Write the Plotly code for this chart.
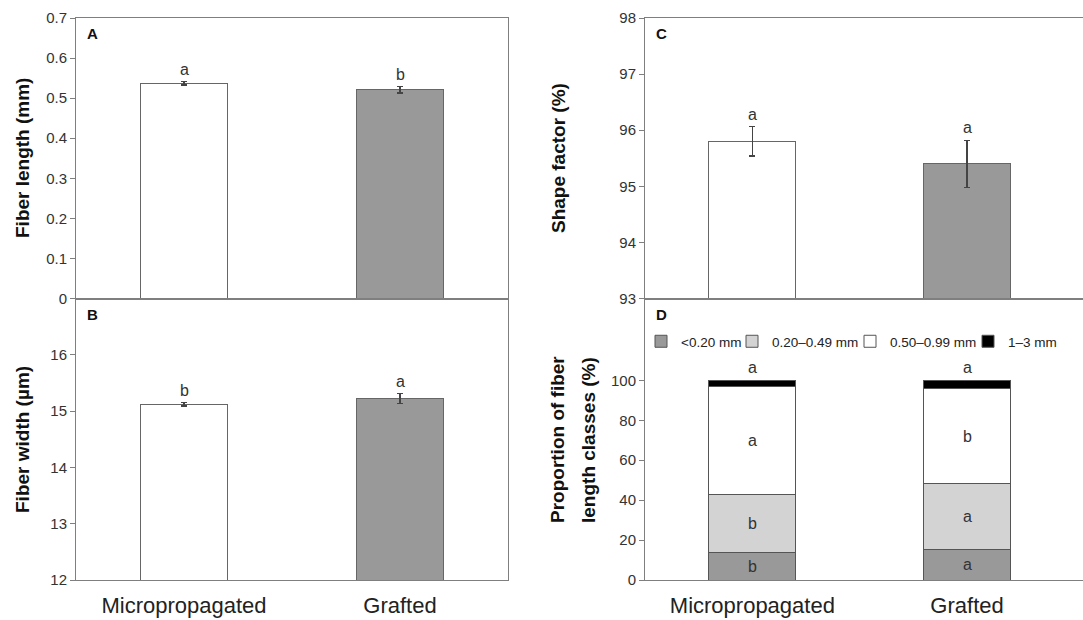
import plotly.graph_objects as go
import numpy as np

categories = ["Micropropagated", "Grafted"]
bar_colors = ["#ffffff", "#999999"]

# Panel A: fiber length (mm)
fiber_length = [0.537, 0.521]
fiber_length_err = [0.004, 0.008]
fiber_length_letters = ["a", "b"]

# Panel B: fiber width (um)
fiber_width = [15.12, 15.22]
fiber_width_err = [0.03, 0.09]
fiber_width_letters = ["b", "a"]

# Panel C: shape factor (%)
shape_factor = [95.8, 95.4]
shape_factor_err = [0.26, 0.42]
shape_factor_letters = ["a", "a"]

# Panel D: proportion of fiber length classes (%)
class_names = ["<0.20 mm", "0.20\u20130.49 mm", "0.50\u20130.99 mm", "1\u20133 mm"]
class_colors = ["#999999", "#d3d3d3", "#ffffff", "#000000"]
prop_lt020 = [13.7, 15.5]
prop_020_049 = [29.1, 32.8]
prop_050_099 = [53.9, 47.4]
prop_1_3 = [3.3, 4.3]
class_letters = [["b", "a"], ["b", "a"], ["a", "b"]]
top_letters = ["a", "a"]

FONT = "Arial, Liberation Sans, sans-serif"
AXC = "#7f7f7f"
TXT = "#333333"
EDGE = "#666666"
W, H = 1083, 620

xpos = list(range(len(categories)))

fig = go.Figure()

def simple_bars(vals, errs, xa, ya):
    fig.add_trace(go.Bar(
        x=xpos, y=vals, width=0.405, xaxis=xa, yaxis=ya,
        marker=dict(color=bar_colors, line=dict(color=EDGE, width=1)),
        error_y=dict(type="data", array=errs, color="#444444", thickness=1.2, width=3),
        showlegend=False, hoverinfo="skip"))

simple_bars(fiber_length, fiber_length_err, "x", "y")
simple_bars(fiber_width, fiber_width_err, "x2", "y2")
simple_bars(shape_factor, shape_factor_err, "x3", "y3")

legend_ids = ["legend", "legend2", "legend3", "legend4"]
stack = [prop_lt020, prop_020_049, prop_050_099, prop_1_3]
for name, col, vals, lg in zip(class_names, class_colors, stack, legend_ids):
    fig.add_trace(go.Bar(
        x=xpos, y=vals, width=0.405, xaxis="x4", yaxis="y4", name=name, legend=lg,
        marker=dict(color=col, line=dict(color="#555555", width=1)),
        hoverinfo="skip"))

annotations = []
def letters(vals, errs, lets, xr, yr):
    for i, (v, e, l) in enumerate(zip(vals, errs, lets)):
        annotations.append(dict(x=xpos[i], y=v + e, xref=xr, yref=yr, text=l,
                                showarrow=False, yanchor="bottom", yshift=2,
                                font=dict(family=FONT, size=16, color=TXT)))

letters(fiber_length, fiber_length_err, fiber_length_letters, "x", "y")
letters(fiber_width, fiber_width_err, fiber_width_letters, "x2", "y2")
letters(shape_factor, shape_factor_err, shape_factor_letters, "x3", "y3")

cum = np.cumsum(np.array(stack), axis=0)
for k in range(3):
    for i in range(len(categories)):
        bottom = cum[k - 1][i] if k > 0 else 0
        mid = (bottom + cum[k][i]) / 2
        annotations.append(dict(x=xpos[i], y=mid, xref="x4", yref="y4", text=class_letters[k][i],
                                showarrow=False, font=dict(family=FONT, size=16, color=TXT)))
for i in range(len(categories)):
    annotations.append(dict(x=xpos[i], y=cum[-1][i], xref="x4", yref="y4", text=top_letters[i],
                            showarrow=False, yanchor="bottom", yshift=2,
                            font=dict(family=FONT, size=16, color=TXT)))

# panel letters
for lab, xr, yr in [("A", "x domain", "y domain"), ("B", "x2 domain", "y2 domain"),
                    ("C", "x3 domain", "y3 domain"), ("D", "x4 domain", "y4 domain")]:
    annotations.append(dict(x=0, y=1, xref=xr, yref=yr, text="<b>" + lab + "</b>",
                            showarrow=False, xanchor="left", yanchor="top", xshift=9, yshift=-5,
                            font=dict(family=FONT, size=15, color="#111111")))

# y-axis titles
def ytitle(text, xpx, ypx):
    annotations.append(dict(x=xpx / W, y=1 - ypx / H, xref="paper", yref="paper",
                            text="<b>" + text + "</b>", textangle=-90, showarrow=False,
                            xanchor="center", yanchor="middle",
                            font=dict(family=FONT, size=19, color="#111111")))

ytitle("Fiber length (mm)", 22, 158)
ytitle("Fiber width (\u00b5m)", 22, 440)
ytitle("Shape factor (%)", 558, 158)
ytitle("Proportion of fiber", 557, 440)
ytitle("length classes (%)", 588, 440)

xL = [76 / W, 508 / W]
xR = [645 / W, 1.0]
yTop = [1 - 298.5 / H, 1 - 18 / H]
yBot = [1 - 580 / H, 1 - 298.5 / H]

common_y = dict(showline=True, linecolor=AXC, linewidth=1, mirror=True, ticks="outside",
                ticklen=5, tickcolor=AXC, showgrid=False, zeroline=False, automargin=False,
                tickfont=dict(family=FONT, size=15, color=TXT))
common_x = dict(showline=True, linecolor=AXC, linewidth=1, mirror=True, ticks="",
                showgrid=False, zeroline=False, tickvals=xpos, ticktext=categories,
                automargin=False, tickfont=dict(family=FONT, size=22, color="#222222"))

# legend entries placed individually (symbol centres near the reference positions)
legend_sym_x = [661, 752, 870, 988]
legend_layout = {}
for lg, sx in zip(legend_ids, legend_sym_x):
    legend_layout[lg] = dict(orientation="h", x=(sx - 20) / W, y=1 - 326 / H,
                             xanchor="left", yanchor="top", itemwidth=30,
                             font=dict(family=FONT, size=13.5, color="#222222"),
                             bgcolor="rgba(0,0,0,0)", borderwidth=0)

fig.update_layout(
    width=W, height=H, margin=dict(l=0, r=0, t=0, b=0, autoexpand=False),
    paper_bgcolor="white", plot_bgcolor="white", barmode="stack",
    font=dict(family=FONT, color=TXT),
    xaxis=dict(common_x, domain=xL, range=[-0.5, 1.5], anchor="y", showticklabels=False),
    yaxis=dict(common_y, domain=yTop, range=[0, 0.7], anchor="x",
               tickvals=[0, 0.1, 0.2, 0.3, 0.4, 0.5, 0.6, 0.7],
               ticktext=["0", "0.1", "0.2", "0.3", "0.4", "0.5", "0.6", "0.7"]),
    xaxis2=dict(common_x, domain=xL, range=[-0.5, 1.5], anchor="y2", ticklabelstandoff=6),
    yaxis2=dict(common_y, domain=yBot, range=[12, 17], anchor="x2",
                tickvals=[12, 13, 14, 15, 16]),
    xaxis3=dict(common_x, domain=xR, range=[-0.5, 1.54], anchor="y3", showticklabels=False),
    yaxis3=dict(common_y, domain=yTop, range=[93, 98], anchor="x3",
                tickvals=[93, 94, 95, 96, 97, 98]),
    xaxis4=dict(common_x, domain=xR, range=[-0.5, 1.54], anchor="y4", ticklabelstandoff=6),
    yaxis4=dict(common_y, domain=yBot, range=[0, 141], anchor="x4",
                tickvals=[0, 20, 40, 60, 80, 100]),
    annotations=annotations,
    **legend_layout,
)

fig.write_html("out.html", config={"displayModeBar": False},
               post_script="document.body.style.margin='0';document.body.style.overflow='hidden';")
